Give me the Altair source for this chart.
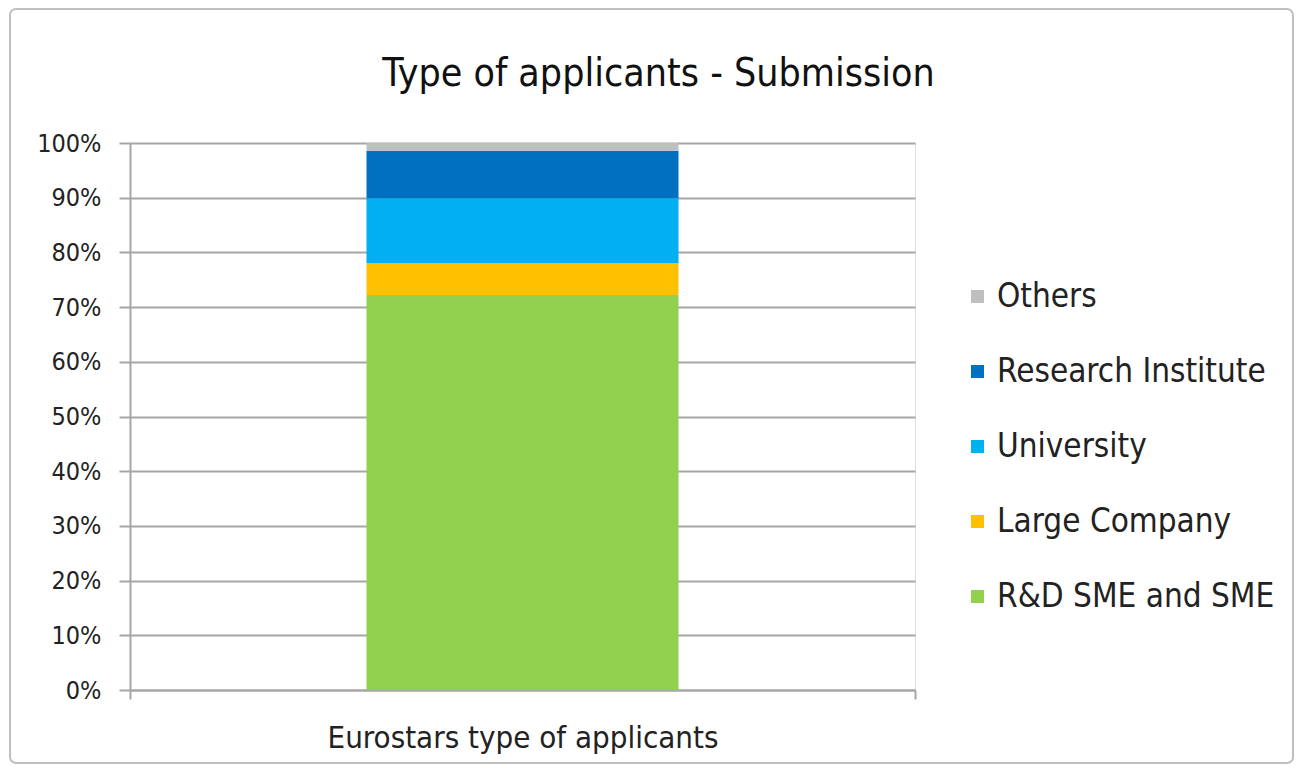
import altair as alt
import pandas as pd

categories = ["R&D SME and SME", "Large Company", "University", "Research Institute", "Others"]
values = [72.2, 5.8, 11.9, 8.7, 1.4]
colors = ["#92D050", "#FFC000", "#00B0F0", "#0070C0", "#BFBFBF"]
group = "Eurostars type of applicants"
y_ticks = [0, 10, 20, 30, 40, 50, 60, 70, 80, 90, 100]

df = pd.DataFrame({
    "group": [group] * len(categories),
    "type": categories,
    "value": values,
    "order": list(range(len(categories))),
})

FONT = "DejaVu Sans Condensed"
W, H = 785, 547

bars = alt.Chart(df).mark_bar(size=312).encode(
    x=alt.X("group:N", title=None,
            scale=alt.Scale(paddingOuter=0, paddingInner=0),
            axis=alt.Axis(labelAngle=0, labelFontSize=31, labelColor="#222222",
                          labelFont=FONT, labelPadding=24, labelLimit=0, tickBand="extent",
                          tickSize=9, tickColor="#A6A6A6", domainColor="#A6A6A6",
                          domainWidth=2, tickWidth=2, grid=False)),
    y=alt.Y("value:Q", stack="zero", title=None,
            scale=alt.Scale(domain=[0, 100], nice=False),
            axis=alt.Axis(values=y_ticks, labelExpr="datum.value + '%'",
                          labelFontSize=25, labelFont=FONT, labelColor="#222222",
                          labelPadding=18, tickSize=11, tickColor="#A6A6A6",
                          tickWidth=2, domainColor="#A6A6A6", domainWidth=2,
                          grid=True, gridColor="#A6A6A6", gridWidth=2)),
    color=alt.Color("type:N",
                    scale=alt.Scale(domain=categories[::-1], range=colors[::-1]),
                    legend=alt.Legend(title=None, orient="none", legendX=831, legendY=137,
                                      symbolType="square", symbolSize=170,
                                      symbolStrokeWidth=0, labelFontSize=33,
                                      labelFont=FONT, labelColor="#222222", labelLimit=0,
                                      rowPadding=41, labelOffset=3)),
    order=alt.Order("order:Q"),
)

border = alt.Chart(pd.DataFrame({"a": [0]})).mark_rect(
    fill=None, stroke="#BFBFBF", strokeWidth=2, cornerRadius=6, clip=False
).encode(
    x=alt.value(-120), x2=alt.value(1163),
    y=alt.value(-134), y2=alt.value(620),
)

chart = alt.layer(border, bars).properties(
    width=W, height=H,
    title=alt.Title("Type of applicants - Submission", fontSize=39, font=FONT,
                    fontWeight="normal", color="#111111", anchor="middle",
                    dx=136, dy=124, offset=38),
    padding={"left": 122, "top": 135, "right": 380, "bottom": 75},
    autosize=alt.AutoSizeParams(type="none"),
).configure_view(stroke=None).configure(background="white")

chart.save("out.html", embed_options={"renderer": "svg", "actions": False})
